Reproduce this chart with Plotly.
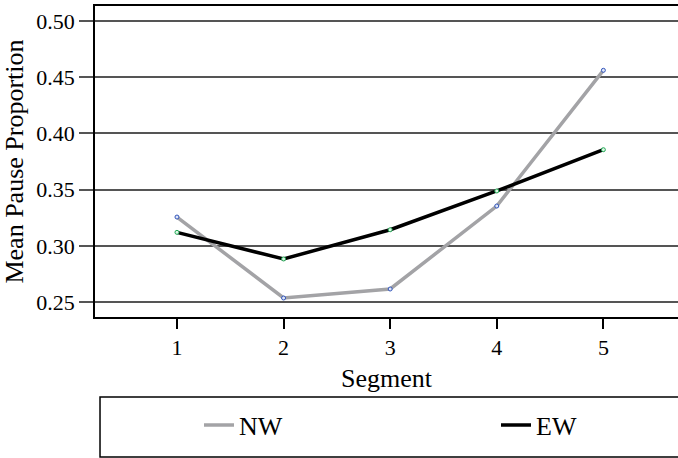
import plotly.graph_objects as go

segments = [1, 2, 3, 4, 5]
nw_values = [0.3256, 0.2536, 0.2616, 0.3354, 0.4561]
ew_values = [0.3120, 0.2883, 0.3143, 0.3488, 0.3855]
y_ticks = [0.25, 0.30, 0.35, 0.40, 0.45, 0.50]
y_tick_labels = ["0.25", "0.30", "0.35", "0.40", "0.45", "0.50"]

FONT = "Liberation Serif"

series = [
    ("NW", nw_values, "#a3a3a6", "#dde6f7", "#3355bb", "legend"),
    ("EW", ew_values, "#000000", "#ddf7e6", "#22aa55", "legend2"),
]

fig = go.Figure()
for name, vals, lcol, mfill, mline, leg in series:
    fig.add_trace(go.Scatter(
        x=segments, y=vals, name=name, mode="lines", legend=leg,
        line=dict(color=lcol, width=3.5), hoverinfo="skip",
    ))
for name, vals, lcol, mfill, mline, leg in series:
    fig.add_trace(go.Scatter(
        x=segments, y=vals, name=name, mode="markers", showlegend=False,
        marker=dict(symbol="circle", size=4, color=mfill, line=dict(color=mline, width=1)),
    ))

# legend frame
fig.add_shape(type="rect", xref="paper", yref="paper",
              x0=0.0086, x1=1.02, y0=-0.450, y1=-0.257,
              line=dict(color="#000000", width=1.5), fillcolor="rgba(0,0,0,0)")

legend_common = dict(
    orientation="h", xref="container", yref="container",
    xanchor="left", y=1 - 425 / 458, yanchor="middle",
    font=dict(family=FONT, size=26, color="#000000"),
    bgcolor="rgba(0,0,0,0)", borderwidth=0, itemclick=False,
)

fig.update_layout(
    width=678, height=458,
    margin=dict(l=95, r=0, t=6, b=141, autoexpand=False),
    paper_bgcolor="white", plot_bgcolor="white",
    font=dict(family=FONT, color="#000000", size=22),
    showlegend=True,
    legend=dict(x=199 / 678, **legend_common),
    legend2=dict(x=496 / 678, **legend_common),
    xaxis=dict(
        range=[0.231, 5.70], tickvals=segments, ticktext=[str(s) for s in segments],
        showgrid=False, zeroline=False, automargin=False,
        showline=True, linecolor="#000000", linewidth=1.5, mirror=True,
        ticks="outside", ticklen=10, tickwidth=1.5, tickcolor="#000000",
        tickfont=dict(family=FONT, size=22),
        title=dict(text="Segment", font=dict(family=FONT, size=26), standoff=10),
    ),
    yaxis=dict(
        range=[0.2367, 0.5133], tickvals=y_ticks, ticktext=y_tick_labels,
        showgrid=True, gridcolor="#555555", gridwidth=1.5, zeroline=False, automargin=False,
        showline=True, linecolor="#000000", linewidth=1.5, mirror=False,
        ticks="outside", ticklen=14, tickwidth=1.5, tickcolor="#555555",
        tickfont=dict(family=FONT, size=22),
        title=dict(text="Mean Pause Proportion", font=dict(family=FONT, size=26), standoff=7),
    ),
)

fig.write_html(
    "out.html",
    config={"displayModeBar": False},
    post_script="document.body.style.margin='0';document.body.style.overflow='hidden';",
)
